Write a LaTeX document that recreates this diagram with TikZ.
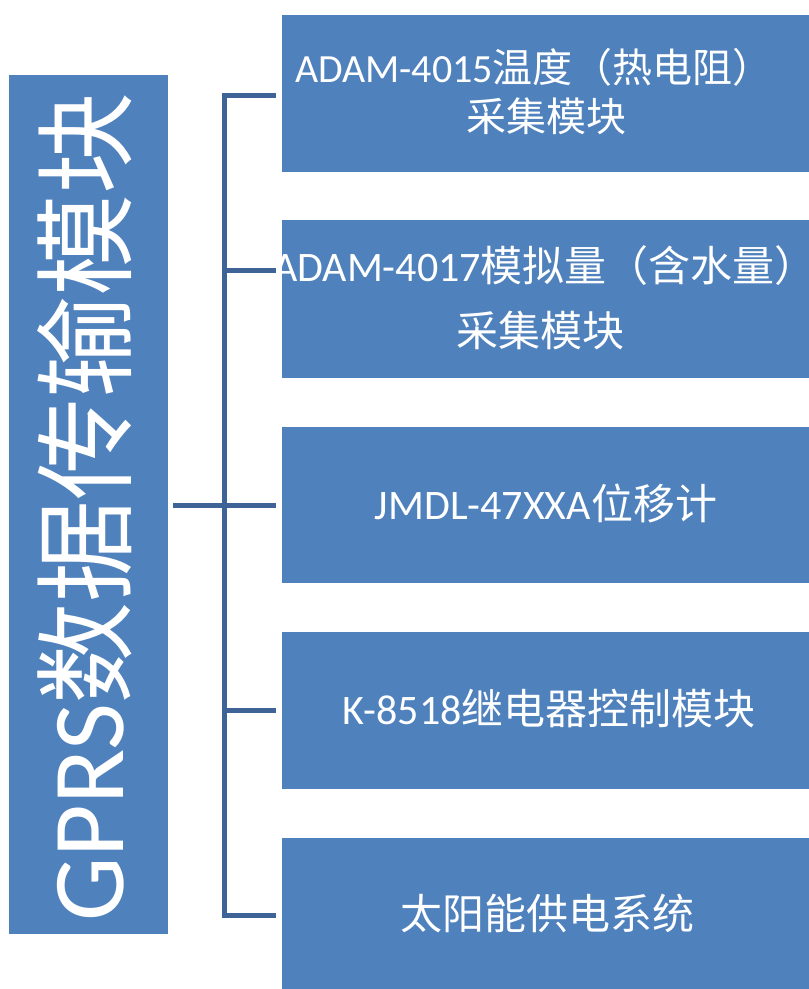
\documentclass[tikz,border=0pt]{standalone}
\usepackage{fontspec}
\setmainfont{Carlito}
\newfontfamily\cjk{Noto Sans CJK SC}
\definecolor{boxblue}{HTML}{4F81BD}
\definecolor{linkblue}{HTML}{3E6497}
\begin{document}
\begin{tikzpicture}[x=1pt,y=-1pt,
  blk/.style={fill=boxblue,draw=none},
  lbl/.style={text=white,inner sep=0pt,anchor=base,font=\fontsize{42}{42}\selectfont},
  lblsmall/.style={lbl,font=\fontsize{40}{40}\selectfont},
  link/.style={draw=linkblue,line width=5pt}]
\useasboundingbox (0,0) rectangle (809,989);
\begin{scope}
\clip (0,0) rectangle (809,989);
\path[blk] (9,75) rectangle (168,934);
\path[blk] (282,15) rectangle (809,172);
\path[blk] (282,220) rectangle (809,378);
\path[blk] (282,427) rectangle (809,583);
\path[blk] (282,632) rectangle (809,789);
\path[blk] (282,838) rectangle (809,995);
\end{scope}
% main label
\node[text=white,inner sep=0pt,rotate=90,font=\fontsize{102}{102}\selectfont] (main) at (85,507) {GPRS{\cjk 数据传输模块}};
% connectors
\coordinate (top) at (224.5,95);
\coordinate (bot) at (224.5,915.5);
\coordinate (j2) at (224.5,270);
\coordinate (j4) at (224.5,710);
\coordinate (l1) at (276,95);
\coordinate (l2) at (276,270);
\coordinate (l3) at (276,505);
\coordinate (l4) at (276,710);
\coordinate (l5) at (276,915.5);
\coordinate (m) at (173,505);
\draw[link] (l1) -- (top) -- (bot) -- (l5);
\draw[link] (m) -- (l3);
\draw[link] (j2) -- (l2);
\draw[link] (j4) -- (l4);
% labels
\begin{scope}
\clip (282,0) rectangle (809,989);
\node[lblsmall] (t1a) at (534,82) {ADAM-4015{\cjk 温度（热电阻）}};
\node[lblsmall] (t1b) at (546,131) {\cjk 采集模块};
\node[lbl] (t2a) at (545,281) {ADAM-4017{\cjk 模拟量（含水量）}};
\node[lbl] (t2b) at (540,346) {\cjk 采集模块};
\node[lbl] (t3) at (546,519) {JMDL-47XXA{\cjk 位移计}};
\node[lbl] (t4) at (549,724) {K-8518{\cjk 继电器控制模块}};
\node[lbl] (t5) at (547,929) {\cjk 太阳能供电系统};
\end{scope}
\end{tikzpicture}
\end{document}
